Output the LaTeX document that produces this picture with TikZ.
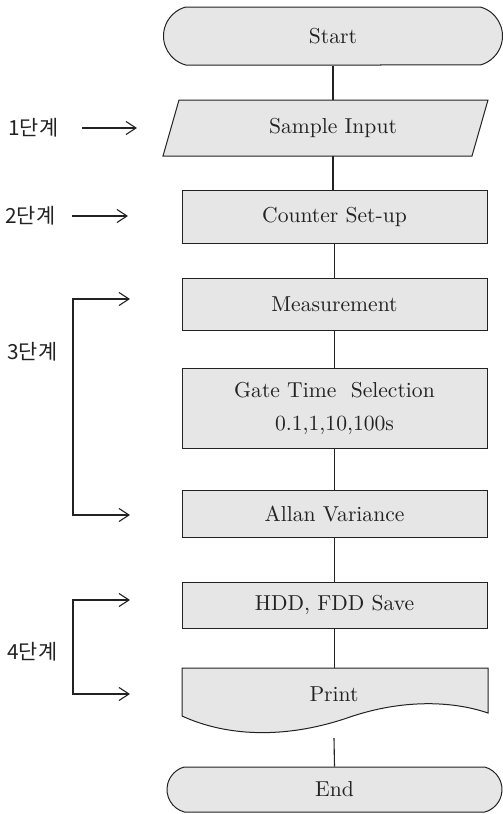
\documentclass[tikz,border=0pt]{standalone}
\usepackage{fontspec}
\newfontfamily\kr{Noto Sans CJK KR}
\usetikzlibrary{arrows.meta,shapes.misc}
\definecolor{boxfill}{HTML}{E6E6E6}
\definecolor{ink}{HTML}{222222}
\begin{document}
\begin{tikzpicture}[x=0.5pt,y=-0.5pt,
  every node/.style={text=ink,font=\fontsize{10.8}{12.5}\selectfont},
  boxstyle/.style={draw=ink,fill=boxfill,line width=0.5pt,rectangle,inner sep=0pt,minimum width=152.5pt},
  termstyle/.style={draw=ink,fill=boxfill,line width=0.5pt,rounded rectangle,rounded rectangle arc length=150,inner sep=0pt},
  plain/.style={draw=none,inner sep=0pt},
  conn/.style={draw=ink,line width=0.55pt},
  barb/.style={draw=ink,line width=0.55pt,arrows={-Straight Barb[length=5pt,width=6.5pt]}},
  dbarb/.style={draw=ink,line width=0.55pt,arrows={Straight Barb[length=5pt,width=6.5pt]-Straight Barb[length=5pt,width=6.5pt]}},
  stage/.style={font=\kr\fontsize{10.4}{12}\selectfont,inner sep=0pt,anchor=west}]
\useasboundingbox (0,0) rectangle (503,814);
% terminals
\node[termstyle,minimum width=169.5pt,minimum height=29pt] (start) at (333,36) {Start};
\node[termstyle,minimum width=167.5pt,minimum height=22.5pt] (end) at (334.5,789.5) {End};
% parallelogram input
\coordinate (p1) at (179,100);
\coordinate (p2) at (488,100);
\coordinate (p3) at (472,156);
\coordinate (p4) at (163,156);
\filldraw[draw=ink,fill=boxfill,line width=0.5pt] (p1) -- (p2) -- (p3) -- (p4) -- cycle;
\node[plain,minimum width=150pt,minimum height=28pt] (input) at (333,128) {Sample Input};
% process boxes
\node[boxstyle,minimum height=26.5pt] (counter) at (334.5,216.5) {Counter Set-up};
\node[boxstyle,minimum height=26pt] (meas) at (334.5,304) {Measurement};
\node[boxstyle,minimum height=40pt,align=center] (gate) at (334.5,408) {Gate Time\ \ Selection\\[4pt]0.1,1,10,100s};
\node[boxstyle,minimum height=23.5pt] (allan) at (334.5,513.5) {Allan Variance};
\node[boxstyle,minimum height=23pt] (hdd) at (334.5,605) {HDD, FDD Save};
% print (document shape)
\coordinate (q1) at (182,668);
\coordinate (q2) at (488,668);
\coordinate (q3) at (488,713);
\coordinate (q4) at (182,716);
\filldraw[draw=ink,fill=boxfill,line width=0.5pt] (q4) -- (q1) -- (q2) -- (q3)
  .. controls (450,700) and (400,700) .. (350,717)
  .. controls (290,738) and (230,738) .. (q4) -- cycle;
\node[plain,minimum width=150pt,minimum height=20pt] (print) at (334,694) {Print};
\coordinate (printout) at (334,738);
% connectors
\draw[conn] (start.south) -- (333,100);
\draw[conn] (333,156) -- (counter.north -| 333,0);
\draw[conn] (counter) -- (meas);
\draw[conn] (meas) -- (gate);
\draw[conn] (gate) -- (allan);
\draw[conn] (allan) -- (hdd);
\draw[conn] (hdd.south) -- (q1 -| hdd.south);
\draw[conn] (printout) -- (end.north);
% stage labels
\node[stage] (s1) at (8,128) {1단계};
\node[stage] (s2) at (5,216) {2단계};
\node[stage] (s3) at (7,352) {3단계};
\node[stage] (s4) at (7,652) {4단계};
\coordinate (a1s) at (82,128);
\coordinate (a1e) at (137,128);
\coordinate (a2s) at (72,216);
\coordinate (a2e) at (128,216);
\draw[barb] (a1s) -- (a1e);
\draw[barb] (a2s) -- (a2e);
\coordinate (m3a) at (130,299);
\coordinate (m3b) at (130,515);
\coordinate (b3) at (73,515);
\draw[dbarb] (m3a) -| (b3) -- (m3b);
\coordinate (m4a) at (130,600);
\coordinate (m4b) at (130,694);
\coordinate (b4) at (73,694);
\draw[dbarb] (m4a) -| (b4) -- (m4b);
\end{tikzpicture}
\end{document}
